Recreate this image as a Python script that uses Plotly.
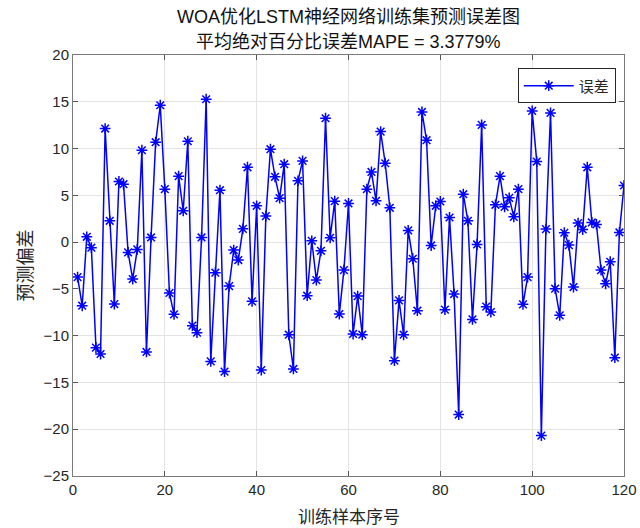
import plotly.graph_objects as go

sample_index = list(range(1, 121))
error_values = [
    -3.74, -6.80, 0.57, -0.60, -11.28, -11.96, 12.14, 2.28, -6.62, 6.48,
    6.19, -1.10, -3.95, -0.78, 9.82, -11.74, 0.50, 10.68, 14.63, 5.66,
    -5.44, -7.72, 7.05, 3.35, 10.78, -8.93, -9.68, 0.50, 15.27, -12.75,
    -3.27, 5.55, -13.84, -4.70, -0.85, -1.92, 1.42, 8.00, -6.33, 3.88,
    -13.67, 2.78, 9.93, 6.98, 4.70, 8.33, -9.90, -13.56, 6.55, 8.68,
    -5.73, 0.14, -4.06, -0.93, 13.24, 0.46, 4.38, -7.69, -2.99, 4.13,
    -9.82, -5.77, -9.90, 5.66, 7.50, 4.41, 11.81, 8.43, 3.67, -12.67,
    -6.23, -9.90, 1.25, -1.78, -7.33, 13.91, 10.89, -0.36, 3.88, 4.34,
    -7.22, 2.63, -5.55, -18.43, 5.12, 2.28, -8.26, -0.25, 12.53, -6.90,
    -7.47, 3.99, 7.05, 3.77, 4.73, 2.70, 5.66, -6.65, -3.74, 14.02,
    8.61, -20.68, 1.39, 13.81, -4.98, -7.83, 1.00, -0.32, -4.80, 2.03,
    1.35, 8.00, 2.10, 1.89, -2.99, -4.45, -2.10, -12.35, 1.03, 6.05,
]
x_ticks = [0, 20, 40, 60, 80, 100, 120]
y_ticks = [-25, -20, -15, -10, -5, 0, 5, 10, 15, 20]

title_line1 = "WOA优化LSTM神经网络训练集预测误差图"
title_line2 = "平均绝对百分比误差MAPE = 3.3779%"
x_label = "训练样本序号"
y_label = "预测偏差"
legend_name = "误差"

sans = "Liberation Sans, Arial, Noto Sans CJK SC, sans-serif"
cjk = "Noto Sans CJK SC, sans-serif"

fig = go.Figure()
fig.add_trace(go.Scatter(
    x=sample_index, y=error_values, mode="lines+markers", name=legend_name,
    line=dict(color="#0000ff", width=1.5),
    marker=dict(symbol="asterisk-open", size=9, color="#0000ff",
                line=dict(color="#0000ff", width=1.5)),
))

axis_common = dict(
    showgrid=True, gridcolor="#e3e3e3", gridwidth=1,
    showline=True, linecolor="#7a7a7a", linewidth=1, mirror="ticks",
    ticks="inside", ticklen=5, tickcolor="#555555",
    zeroline=False, tickfont=dict(family=sans, size=15, color="#262626"),
)
fig.update_xaxes(range=[0, 120], tickvals=x_ticks, automargin=False, **axis_common)
fig.update_yaxes(range=[-25, 20], tickvals=y_ticks, automargin=False, **axis_common)

fig.update_layout(
    width=640, height=528,
    margin=dict(l=73, r=16, t=55, b=52, autoexpand=False),
    paper_bgcolor="white", plot_bgcolor="white",
    showlegend=True,
    legend=dict(x=0.985, y=0.968, xanchor="right", yanchor="top",
                bordercolor="#262626", borderwidth=1, bgcolor="white",
                itemwidth=50,
                font=dict(family=cjk, size=15, color="#262626")),
)
fig.add_annotation(text=title_line1, x=0.5, y=1, xref="paper", yref="paper",
                   showarrow=False, font=dict(family=sans, size=18, color="#111111"),
                   xanchor="center", yanchor="middle", yshift=38)
fig.add_annotation(text=title_line2, x=0.5, y=1, xref="paper", yref="paper",
                   showarrow=False, font=dict(family=sans, size=18, color="#111111"),
                   xanchor="center", yanchor="middle", yshift=13)
fig.add_annotation(text=x_label, x=0.5, y=0, xref="paper", yref="paper",
                   showarrow=False, font=dict(family=cjk, size=17, color="#262626"),
                   xanchor="center", yanchor="middle", yshift=-39)
fig.add_annotation(text=y_label, x=0, y=0.5, xref="paper", yref="paper",
                   showarrow=False, textangle=-90,
                   font=dict(family=cjk, size=18, color="#262626"),
                   xanchor="center", yanchor="middle", xshift=-50)

fig.write_html("out.html")
